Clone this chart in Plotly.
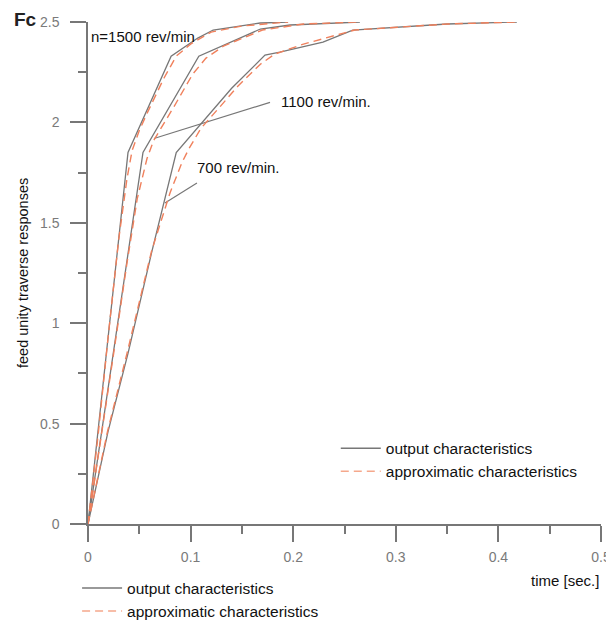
import plotly.graph_objects as go

# ---- data ----
# output characteristics (gray, solid)
t_out_1500 = [0, 0.039, 0.081, 0.107, 0.122, 0.168, 0.195]
f_out_1500 = [0, 1.85, 2.33, 2.42, 2.46, 2.495, 2.50]

t_out_1100 = [0, 0.0536, 0.108, 0.168, 0.197, 0.246, 0.265]
f_out_1100 = [0, 1.85, 2.33, 2.465, 2.485, 2.495, 2.50]

t_out_700 = [0, 0.0088, 0.0195, 0.039, 0.0624, 0.086, 0.140, 0.1725, 0.187, 0.229, 0.258, 0.350, 0.418]
f_out_700 = [0, 0.20, 0.46, 0.85, 1.36, 1.85, 2.17, 2.335, 2.35, 2.40, 2.46, 2.49, 2.50]

# approximatic characteristics (orange, dashed)
t_app_1500 = [0, 0.010, 0.020, 0.030, 0.038, 0.043, 0.050, 0.058, 0.074, 0.086, 0.100, 0.120, 0.150, 0.195]
f_app_1500 = [0, 0.45, 0.95, 1.42, 1.72, 1.86, 1.96, 2.05, 2.22, 2.33, 2.39, 2.45, 2.48, 2.50]

t_app_1100 = [0, 0.012, 0.025, 0.038, 0.048, 0.0575, 0.064, 0.084, 0.102, 0.115, 0.132, 0.170, 0.210, 0.265]
f_app_1100 = [0, 0.40, 0.85, 1.30, 1.62, 1.82, 1.91, 2.08, 2.24, 2.32, 2.38, 2.46, 2.49, 2.50]

t_app_700 = [0, 0.008, 0.019, 0.038, 0.062, 0.080, 0.0916, 0.0985, 0.110, 0.129, 0.146, 0.168, 0.182, 0.210, 0.260, 0.350, 0.418]
f_app_700 = [0, 0.20, 0.46, 0.85, 1.36, 1.65, 1.80, 1.87, 1.97, 2.08, 2.18, 2.29, 2.34, 2.39, 2.46, 2.49, 2.50]

# leader lines for the speed labels
lead_1100_t = [0.1774, 0.0643]
lead_1100_f = [2.10, 1.92]
lead_700_t = [0.1062, 0.075]
lead_700_f = [1.698, 1.599]

labels = ["n=1500 rev/min", "1100 rev/min.", "700 rev/min."]
label_t = [0.001, 0.186, 0.104]
label_f = [2.43, 2.105, 1.773]

x_ticks = [0, 0.1, 0.2, 0.3, 0.4, 0.5]
x_ticklabels = ["0", "0.1", "0.2", "0.3", "0.4", "0.5"]
y_ticks = [0, 0.5, 1, 1.5, 2, 2.5]
y_ticklabels = ["0", "0.5", "1", "1.5", "2", "2.5"]

legend_names = ["output characteristics", "approximatic characteristics"]

# ---- styles ----
GRAY = "#777777"
ORANGE = "#f0805c"
FONT = "Arial, Liberation Sans, sans-serif"
DASH = "8px,5px"

fig = go.Figure()

for t, f in [(t_out_1500, f_out_1500), (t_out_1100, f_out_1100), (t_out_700, f_out_700)]:
    fig.add_trace(go.Scatter(x=t, y=f, mode="lines", line=dict(color=GRAY, width=1.3),
                             showlegend=False, hoverinfo="skip"))

for t, f in [(lead_1100_t, lead_1100_f), (lead_700_t, lead_700_f)]:
    fig.add_trace(go.Scatter(x=t, y=f, mode="lines", line=dict(color=GRAY, width=1.2),
                             showlegend=False, hoverinfo="skip"))

for t, f in [(t_app_1500, f_app_1500), (t_app_1100, f_app_1100), (t_app_700, f_app_700)]:
    fig.add_trace(go.Scatter(x=t, y=f, mode="lines", line=dict(color=ORANGE, width=1.4, dash=DASH),
                             showlegend=False, hoverinfo="skip"))

# legend entries (two legends, as in the reference)
LEG_ORANGE = "#f5a88c"
for lg in ["legend", "legend2"]:
    fig.add_trace(go.Scatter(x=[None], y=[None], mode="lines", name=legend_names[0],
                             line=dict(color=GRAY, width=1.5), legend=lg))
    fig.add_trace(go.Scatter(x=[None], y=[None], mode="lines", name=legend_names[1],
                             line=dict(color=LEG_ORANGE, width=1.5, dash=DASH), legend=lg))

for txt, xx, yy in zip(labels, label_t, label_f):
    fig.add_annotation(x=xx, y=yy, text=txt, showarrow=False, xanchor="left", yanchor="middle",
                       font=dict(family=FONT, size=15, color="#111"))

fig.add_annotation(x=-0.148, y=1.004, xref="paper", yref="paper", text="<b>Fc</b>",
                   showarrow=False, xanchor="left", yanchor="middle",
                   font=dict(family=FONT, size=19, color="#222"))
fig.add_annotation(x=1.0, y=-0.112, xref="paper", yref="paper", text="time [sec.]",
                   showarrow=False, xanchor="right", yanchor="middle",
                   font=dict(family=FONT, size=15, color="#111"))
fig.add_annotation(x=-0.1267, y=0.5, xref="paper", yref="paper", text="feed unity traverse responses",
                   showarrow=False, xanchor="center", yanchor="middle", textangle=-90,
                   font=dict(family=FONT, size=14.5, color="#111"))

legend_style = dict(font=dict(family=FONT, size=15.5, color="#111"), bgcolor="rgba(0,0,0,0)",
                    borderwidth=0, itemwidth=40, xanchor="left", yanchor="top")

# the page adds an 8px body margin, so the figure is 8px smaller on each side
fig.update_layout(
    width=606, height=613,
    margin=dict(l=80, r=13, t=14, b=97, autoexpand=False),
    paper_bgcolor="white", plot_bgcolor="white",
    showlegend=True,
    legend=dict(x=0.483, y=0.184, **legend_style),
    legend2=dict(x=0.114, y=0.081, xref="container", yref="container", **legend_style),
    xaxis=dict(range=[0, 0.5], tickvals=x_ticks, ticktext=x_ticklabels, automargin=False,
               showgrid=False, zeroline=False, showline=True, linecolor=GRAY, linewidth=1.5,
               ticks="outside", ticklen=16, tickcolor=GRAY, tickwidth=1.5,
               minor=dict(dtick=0.05, ticks="outside", ticklen=8, tickcolor=GRAY, tickwidth=1.5, showgrid=False),
               tickfont=dict(family=FONT, size=14, color="#7a7a7a"), ticklabelstandoff=3),
    yaxis=dict(range=[0, 2.5], tickvals=y_ticks, ticktext=y_ticklabels, automargin=False,
               showgrid=False, zeroline=False, showline=True, linecolor=GRAY, linewidth=1.5,
               ticks="outside", ticklen=16, tickcolor=GRAY, tickwidth=1.5,
               minor=dict(dtick=0.25, ticks="outside", ticklen=8, tickcolor=GRAY, tickwidth=1.5, showgrid=False),
               tickfont=dict(family=FONT, size=14, color="#7a7a7a"), ticklabelstandoff=8),
)

fig.write_html("out.html")
